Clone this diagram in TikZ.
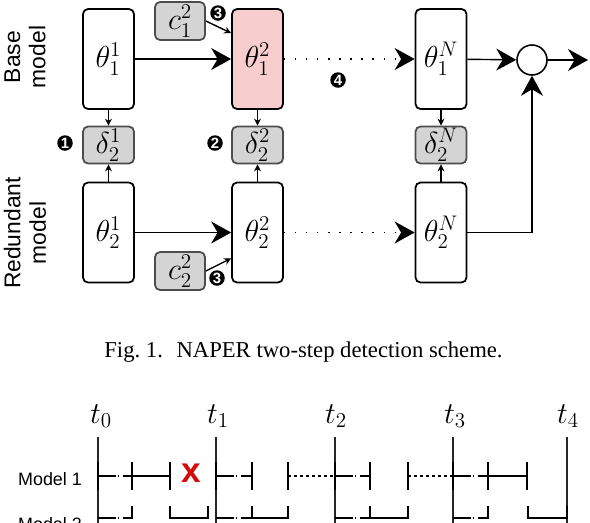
\documentclass[tikz,border=0pt]{standalone}
\usepackage{fontspec}
\usepackage{amsmath}
\usetikzlibrary{arrows.meta}
\newfontfamily\sansfont{Liberation Sans}
\newfontfamily\capfont{Liberation Serif}
\definecolor{mypink}{RGB}{247,205,205}
\definecolor{mygray}{RGB}{212,212,212}
\definecolor{myred}{RGB}{215,10,10}

\begin{document}
\begin{tikzpicture}[x=0.02cm, y=-0.02cm,
			mybox/.style={draw, rounded corners=1mm, minimum width=1.02cm, minimum height=2cm, line width=1pt, inner sep=0pt, font=\fontsize{17.28}{19}\selectfont},
			mygraybox/.style={draw=black!70, fill=mygray, rounded corners=1mm, minimum width=1.02cm, minimum height=0.74cm, line width=1pt, inner sep=0pt, font=\fontsize{17.28}{19}\selectfont},
			mybadge/.style={circle, fill=black, text=white, minimum size=0.31cm, inner sep=0pt, font=\sansfont\bfseries\fontsize{8.5}{9}\selectfont},
			bigarrow/.style={-{Stealth[length=4mm, width=4.4mm, inset=1.3mm]}, line width=0.8pt},
			smallarrow/.style={-{Stealth[length=1.4mm, width=1.4mm]}, line width=0.8pt},
			dotarrow/.style={bigarrow, dash pattern=on 0.8pt off 5.5pt},
			tline/.style={black!85, line width=1.2pt},
			mytick/.style={line width=1.6pt},
			dashdot/.style={line width=1.6pt, dash pattern=on 10pt off 1.2pt on 1pt off 1.8pt},
			dotline/.style={line width=1.6pt, dash pattern=on 1.7pt off 1.7pt},
			mylabel/.style={font=\sansfont\fontsize{13}{14.5}\selectfont, align=center, rotate=90},
			tlabel/.style={font=\fontsize{17.28}{19}\selectfont}
		]

		\clip (0,0) rectangle (590,522);

		\node[mylabel] (baselabel) at (25,57) {Base\\model};
		\node[mylabel] (redlabel) at (25,233) {Redundant\\model};

		\node[mybox] (t11) at (108.5,59) {$\theta_1^1$};
		\node[mygraybox] (d1) at (108.5,145) {$\delta_2^1$};
		\node[mybox] (t21) at (108.5,232.5) {$\theta_2^1$};

		\node[mybox, fill=mypink] (t12) at (257.5,59) {$\theta_1^2$};
		\node[mygraybox] (d2) at (257.5,145) {$\delta_2^2$};
		\node[mybox] (t22) at (257.5,232.5) {$\theta_2^2$};

		\node[mybox] (t1n) at (441,59) {$\theta_1^N$};
		\node[mygraybox] (dn) at (441,145) {$\delta_2^N$};
		\node[mybox] (t2n) at (441,232.5) {$\theta_2^N$};

		\node[mygraybox, minimum width=1cm, minimum height=0.76cm] (c1) at (180,21) {$c_1^2$};
		\node[mygraybox, minimum width=1cm, minimum height=0.76cm] (c2) at (180,271) {$c_2^2$};

		\node[draw, circle, minimum size=0.6cm, line width=0.9pt] (sum) at (532,60) {};
		\coordinate (out) at (588,60);

		\node[mybadge] (b1) at (65,143) {1};
		\node[mybadge] (b2) at (215,143) {2};
		\node[mybadge] (b3a) at (218,13) {3};
		\node[mybadge] (b3b) at (217,278) {3};
		\node[mybadge] (b4) at (338,80) {4};

		\draw[bigarrow] (t11) -- (t12);
		\draw[bigarrow] (t21) -- (t22);
		\draw[dotarrow] (t12) -- (t1n);
		\draw[dotarrow] (t22) -- (t2n);
		\draw[bigarrow] (t1n) -- (sum);
		\draw[bigarrow] (sum) -- (out);
		\draw[bigarrow] (t2n.east) -| (sum.south);

		\draw[smallarrow] (t11) -- (d1);
		\draw[smallarrow] (t21) -- (d1);
		\draw[smallarrow] (t12) -- (d2);
		\draw[smallarrow] (t22) -- (d2);
		\draw[smallarrow] (t1n) -- (dn);
		\draw[smallarrow] (t2n) -- (dn);

		\draw[smallarrow] (c1.east) -- ([yshift=-0.5cm]t12.north west);
		\draw[smallarrow] (c2.east) -- ([yshift=0.5cm]t22.south west);

		\node[font=\capfont\fontsize{12.9}{15}\selectfont] (caption) at (303.5,352) {Fig.~1.\hspace{0.6em}NAPER two-step detection scheme.};

		\node[tlabel] (lt0) at (101,416) {$t_0$};
		\node[tlabel] (lt1) at (218,416) {$t_1$};
		\node[tlabel] (lt2) at (336,416) {$t_2$};
		\node[tlabel] (lt3) at (455,416) {$t_3$};
		\node[tlabel] (lt4) at (568,416) {$t_4$};

		\node[anchor=base, font=\sansfont\fontsize{10.2}{12}\selectfont] (m1) at (50,485) {Model 1};
		\node[anchor=base, font=\sansfont\fontsize{10.2}{12}\selectfont] (m2) at (50,530) {Model 2};

		\draw[tline] (98,437) -- (98,530);
		\draw[tline] (216,437) -- (216,530);
		\draw[tline] (335,437) -- (335,530);
		\draw[tline] (453,437) -- (453,530);
		\draw[tline] (567,437) -- (567,530);

		\draw[mytick] (98,462) -- (98,490);
		\draw[mytick] (132,462) -- (132,490);
		\draw[mytick] (170,462) -- (170,490);
		\draw[mytick] (216,462) -- (216,490);
		\draw[mytick] (252,462) -- (252,490);
		\draw[mytick] (288,462) -- (288,490);
		\draw[mytick] (335,462) -- (335,490);
		\draw[mytick] (370,462) -- (370,490);
		\draw[mytick] (408,462) -- (408,490);
		\draw[mytick] (453,462) -- (453,490);
		\draw[mytick] (488,462) -- (488,490);
		\draw[mytick] (527,462) -- (527,490);

		\draw[dashdot] (98,476) -- (132,476);
		\draw[mytick, line width=1.2pt] (132,476) -- (170,476);
		\draw[dashdot] (216,476) -- (252,476);
		\draw[dotline] (288,476) -- (335,476);
		\draw[dashdot] (335,476) -- (370,476);
		\draw[dotline] (408,476) -- (453,476);
		\draw[dashdot] (453,476) -- (488,476);
		\draw[mytick, line width=1.2pt] (488,476) -- (527,476);

		\node[text=myred, font=\sansfont\bfseries\fontsize{20}{20}\selectfont] (fail) at (191,473) {x};

		\draw[mytick] (132,506) -- (132,519);
		\draw[mytick] (170,506) -- (170,519);
		\draw[mytick] (208,506) -- (208,519);
		\draw[mytick] (252,506) -- (252,519);
		\draw[mytick] (288,506) -- (288,519);
		\draw[mytick] (370,506) -- (370,519);
		\draw[mytick] (408,506) -- (408,519);
		\draw[mytick] (488,506) -- (488,519);
		\draw[mytick] (528,506) -- (528,519);
		\draw[mytick] (567,506) -- (567,519);

		\draw[dashdot] (98,518) -- (132,518);
		\draw[mytick] (170,518) -- (208,518);
		\draw[dashdot] (216,518) -- (252,518);
		\draw[mytick] (252,518) -- (288,518);
		\draw[dashdot] (335,518) -- (370,518);
		\draw[mytick] (370,518) -- (408,518);
		\draw[dashdot] (453,518) -- (488,518);
		\draw[mytick] (528,518) -- (567,518);

	\end{tikzpicture}
\end{document}
